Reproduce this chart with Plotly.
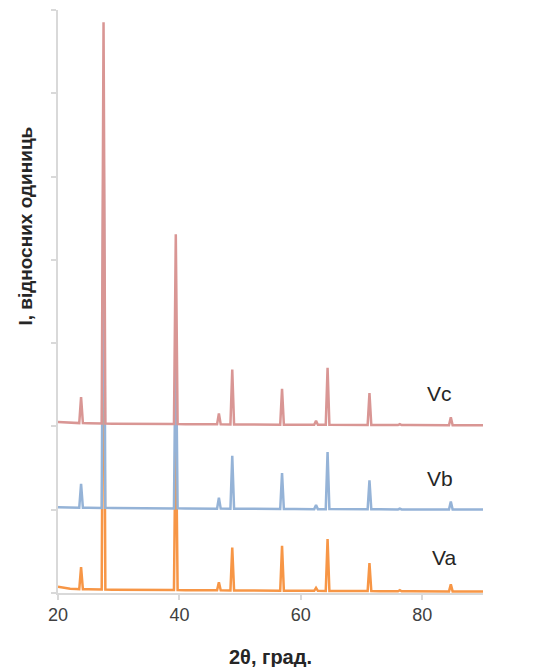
import plotly.graph_objects as go

# 2θ positions (degrees)
two_theta = [20.0, 21.0, 22.0, 23.0, 23.5, 23.8, 24.1, 25.0, 26.0, 27.2,
             27.5, 27.8, 29.0, 31.0, 33.0, 35.0, 37.0, 39.1, 39.4, 39.7,
             41.0, 43.0, 45.0, 46.2, 46.5, 46.8, 48.4, 48.7, 49.0, 51.0,
             53.0, 55.0, 56.6, 56.9, 57.2, 59.0, 61.0, 62.2, 62.5, 62.8,
             64.1, 64.4, 64.7, 66.0, 68.0, 70.0, 71.0, 71.3, 71.6, 73.0,
             75.0, 76.0, 76.3, 76.6, 78.0, 80.0, 82.0, 84.4, 84.7, 85.0,
             87.0, 89.0, 90.0]

I_va = [75, 62, 52, 48, 45, 310, 45, 44, 43, 42,
        4700, 42, 40, 40, 38, 38, 36, 36, 2200, 36,
        34, 34, 32, 32, 128, 32, 31, 547, 31, 30,
        30, 28, 28, 568, 28, 27, 26, 26, 62, 26,
        25, 649, 25, 24, 24, 23, 23, 359, 23, 22,
        22, 21, 33, 21, 20, 20, 19, 19, 103, 19,
        18, 18, 18]

I_vb = [50, 48, 46, 45, 44, 332, 44, 43, 42, 42,
        4750, 42, 40, 40, 38, 38, 36, 36, 2250, 36,
        35, 34, 33, 33, 165, 33, 32, 668, 32, 31,
        30, 29, 29, 461, 29, 28, 27, 27, 75, 27,
        27, 711, 27, 26, 26, 25, 25, 373, 25, 25,
        24, 24, 34, 24, 24, 23, 23, 23, 119, 23,
        22, 22, 22]

I_vc = [62, 58, 55, 52, 50, 362, 50, 48, 46, 45,
        4862, 45, 43, 42, 41, 40, 39, 39, 2318, 38,
        37, 36, 35, 35, 167, 35, 34, 694, 34, 33,
        32, 31, 31, 463, 31, 30, 29, 29, 77, 29,
        29, 713, 29, 28, 28, 27, 27, 411, 27, 27,
        26, 26, 38, 26, 26, 25, 25, 25, 121, 25,
        24, 24, 24]

series_names = ["Va", "Vb", "Vc"]
offsets = [0, 980, 1990]
colors = ["#F79646", "#95B3D7", "#D99694"]

x_ticks = [20, 40, 60, 80]

for arr in (I_va, I_vb, I_vc):
    assert len(arr) == len(two_theta)

fig = go.Figure()
for name, vals, off, col in zip(series_names, [I_va, I_vb, I_vc], offsets, colors):
    fig.add_trace(go.Scatter(
        x=two_theta, y=[v + off for v in vals], mode="lines", name=name,
        line=dict(color=col, width=2.5), showlegend=False,
    ))

label_pos = {"Vc": (82.9, 2400), "Vb": (82.9, 1380), "Va": (83.5, 432)}
for name in series_names:
    lx, ly = label_pos[name]
    fig.add_annotation(x=lx, y=ly, xref="x", yref="y", text=name, showarrow=False,
                       font=dict(size=21, color="#262626", family="Liberation Sans"))

fig.add_annotation(x=-0.077, y=0.629, xref="paper", yref="paper",
                   xanchor="center", yanchor="middle",
                   text="<b>I, відносних одиниць</b>", textangle=-90, showarrow=False,
                   font=dict(size=19, color="#262626", family="Liberation Sans"))
fig.add_annotation(x=0.5, y=-0.11, xref="paper", yref="paper",
                   xanchor="center", yanchor="middle",
                   text="<b>2θ, град.</b>", showarrow=False,
                   font=dict(size=20, color="#262626", family="Liberation Sans"))

# page body has an 8px margin, so the figure is 8px smaller and shifted
fig.update_layout(
    width=538, height=659,
    margin=dict(l=50, r=63, t=2, b=74),
    paper_bgcolor="white", plot_bgcolor="white",
    font=dict(family="Liberation Sans", color="#404040"),
    xaxis=dict(range=[20, 90], tickvals=x_ticks, ticktext=[str(t) for t in x_ticks],
               showline=True, linecolor="#d9d9d9", linewidth=1.5,
               ticks="outside", ticklen=5, tickcolor="#d9d9d9", tickwidth=1.5,
               tickfont=dict(size=18, color="#404040"),
               showgrid=False, zeroline=False),
    yaxis=dict(range=[0, 7000], dtick=1000, tick0=0, showticklabels=False,
               showline=True, linecolor="#d9d9d9", linewidth=1.5,
               ticks="outside", ticklen=5, tickcolor="#d9d9d9", tickwidth=1.5,
               showgrid=False, zeroline=False),
)

fig.write_html("out.html")
